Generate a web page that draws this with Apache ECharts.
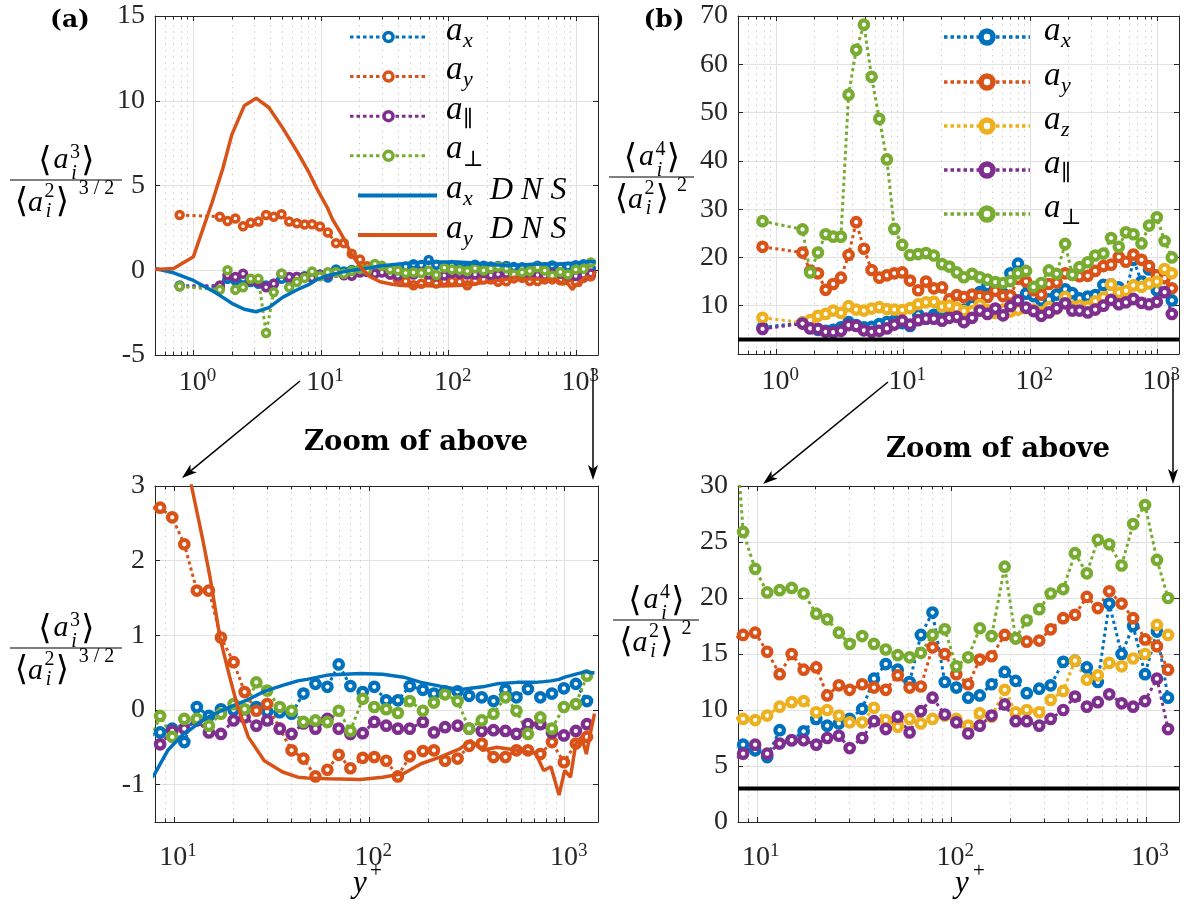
<!DOCTYPE html>
<html><head><meta charset="utf-8">
<script src="https://cdn.jsdelivr.net/npm/echarts@6/dist/echarts.min.js"></script>
<style>html,body{margin:0;padding:0;background:#fff}#c{width:1189px;height:908px}</style>
</head><body><div id="c"></div>
<script>
// ---------------- data ----------------
const yPlus = [0.78, 1.61, 1.85, 2.13, 2.45, 2.81, 3.23, 3.71, 4.26, 4.9, 5.63, 6.47, 7.43,
  8.5, 9.8, 11.3, 13.1, 15.1, 17.4, 20.2, 23.0, 26.4, 30.0, 34.8, 40.0, 46.0, 53.0, 61.0,
  69.7, 80.0, 92.5, 106, 122, 140, 161, 188, 214, 244, 283, 324, 376, 432, 497, 566, 648,
  750, 860, 990, 1140, 1300];

const skewAx = [-0.9, -1.0, -0.5, -0.6, -0.5, -0.7, -0.8, -0.9, -0.8, -0.5, -0.5, -0.4, -0.35,
  -0.3, -0.25, -0.43, 0.04, -0.08, 0.01, 0.0, 0.0, 0.04, -0.02, -0.03, -0.05, 0.22, 0.35, 0.31,
  0.61, 0.32, 0.24, 0.31, 0.13, 0.13, 0.32, 0.27, 0.22, 0.25, 0.25, 0.19, 0.17, 0.12, 0.27, 0.17,
  0.28, 0.17, 0.22, 0.29, 0.35, 0.12];
const skewAy = [3.26, 3.16, 2.9, 3.05, 2.6, 2.8, 2.87, 3.26, 3.16, 3.3, 2.87, 2.77, 2.7,
  2.71, 2.58, 2.22, 1.6, 1.6, 0.97, 0.64, 0.24, -0.01, 0.08, -0.25, -0.54, -0.65, -0.89, -0.8,
  -0.6, -0.78, -0.64, -0.63, -0.68, -0.89, -0.62, -0.55, -0.54, -0.68, -0.65, -0.48, -0.45, -0.63,
  -0.63, -0.54, -0.54, -0.59, -0.43, -0.7, -0.45, -0.36];
const skewApar = [-0.95, -0.9, -0.3, -0.4, -0.2, -0.6, -0.7, -1.0, -0.8, -0.2, -0.4, -0.4, -0.4,
  -0.46, -0.28, -0.25, -0.14, -0.3, -0.32, -0.14, -0.1, -0.21, -0.14, -0.25, -0.32, -0.18, -0.25,
  -0.12, -0.25, -0.32, -0.31, -0.16, -0.21, -0.25, -0.25, -0.16, -0.3, -0.23, -0.21, -0.25, -0.28,
  -0.27, -0.28, -0.32, -0.19, -0.19, -0.3, -0.34, -0.28, -0.19];
const skewAperp = [-0.95, -1.15, 0.0, -1.15, -1.0, -0.5, -0.5, -3.7, -1.3, -0.2, -1.0, -0.7, -0.45,
  -0.08, -0.36, -0.12, -0.12, -0.21, -0.05, 0.08, 0.01, 0.37, 0.26, 0.04, -0.01, -0.16, -0.14,
  -0.16, -0.01, -0.28, 0.15, 0.04, 0.01, -0.04, 0.12, -0.01, 0.1, 0.21, 0.12, -0.25, -0.14, -0.05,
  0.17, -0.01, -0.32, -0.1, -0.25, 0.04, 0.08, 0.46];

const kurtAx = [5.5, 6.5, 5.5, 5.0, 4.8, 5.0, 5.5, 6.6, 6.0, 5.5, 5.6, 6.2, 6.6,
  6.9, 6.4, 5.8, 8.2, 7.3, 8.1, 9.2, 8.6, 8.8, 9.2, 10.1, 12.8, 14.1, 13.6, 12.5, 16.7, 18.7, 12.5,
  12.0, 11.1, 11.3, 12.3, 13.4, 12.6, 11.5, 11.9, 12.2, 14.3, 14.4, 13.8, 12.5, 19.5, 15.0, 17.5,
  13.2, 17.0, 11.1];
const kurtAy = [22.2, 21.0, 17.2, 16.7, 13.3, 14.5, 15.8, 20.5, 27.3, 21.8, 17.4, 15.8, 16.3,
  16.7, 16.9, 15.2, 13.2, 15.0, 13.6, 13.8, 11.3, 12.2, 11.8, 12.3, 12.0, 11.8, 13.1, 12.0, 12.1,
  15.6, 15.0, 13.2, 12.3, 14.5, 14.8, 16.7, 16.4, 16.1, 16.2, 17.2, 18.2, 18.5, 20.1, 19.1, 20.6,
  19.5, 18.2, 16.3, 15.7, 13.6];
const kurtAz = [7.5, 6.5, 7.0, 7.9, 8.3, 9.0, 8.5, 9.9, 9.2, 9.0, 9.4, 9.7, 9.3,
  9.2, 9.1, 9.5, 10.3, 10.7, 10.8, 9.8, 10.0, 9.5, 8.9, 8.9, 10.2, 9.1, 8.5, 9.2, 8.8, 9.2, 9.5,
  9.2, 8.6, 9.7, 9.4, 11.8, 9.8, 10.0, 9.8, 10.9, 11.7, 14.4, 12.7, 13.1, 14.2, 13.9, 14.6, 15.0,
  17.6, 16.7];
const kurtApar = [5.2, 6.3, 5.3, 5.2, 4.6, 4.5, 4.8, 6.0, 5.8, 4.9, 4.6, 4.8, 5.3,
  6.1, 6.9, 6.1, 7.0, 7.3, 7.3, 6.9, 7.5, 7.7, 6.6, 7.5, 9.0, 8.3, 9.4, 8.0, 9.9, 11.1, 9.6, 8.9,
  7.9, 8.6, 9.5, 10.5, 9.0, 9.0, 8.6, 9.2, 10.0, 11.2, 10.3, 10.7, 11.4, 10.6, 10.3, 10.8, 12.8, 8.3];
const kurtAperp = [27.5, 25.8, 16.9, 21.0, 24.8, 24.3, 24.3, 53.7, 63.0, 68.2, 57.4, 48.7, 40.3,
  25.9, 22.6, 20.5, 20.7, 20.9, 20.4, 18.6, 18.1, 16.9, 15.9, 16.6, 15.9, 15.4, 14.9, 14.7, 15.1,
  16.7, 17.2, 13.9, 14.7, 17.3, 16.6, 22.8, 16.4, 18.0, 19.0, 20.4, 20.8, 24.0, 22.2, 25.2, 24.8,
  22.9, 26.6, 28.3, 23.4, 20.0];

const dnsYPlus = [0.5, 0.7, 1.0, 1.4, 1.7, 2.0, 2.5, 3.1, 3.9, 5.0, 6.5, 8.0, 9.3, 11.2, 12.3, 14.0,
  15.3, 17.2, 19.3, 21.0, 24, 29, 36, 43, 48, 62, 90, 117, 150, 184, 230, 290, 330, 380, 450, 570,
  710, 780, 850, 935, 1000, 1070, 1140, 1220, 1290, 1340, 1420];
const dnsSkewAy = [0.05, 0.1, 0.8, 4.0, 6.0, 8.0, 9.7, 10.15, 9.6, 8.4, 7.0, 5.8, 4.8, 3.7, 3.0, 2.3,
  1.78, 0.97, 0.44, 0.08, -0.36, -0.68, -0.83, -0.9, -0.91, -0.92, -0.93, -0.9, -0.85, -0.72, -0.63,
  -0.52, -0.41, -0.54, -0.5, -0.54, -0.58, -0.81, -0.76, -1.14, -0.81, -0.9, -0.45, -0.36, -0.59,
  -0.36, -0.05];
const dnsSkewAx = [0.1, -0.15, -0.6, -1.2, -1.6, -1.95, -2.3, -2.45, -2.2, -1.6, -1.15, -0.85, -0.54,
  -0.32, -0.25, -0.14, -0.08, -0.02, 0.04, 0.08, 0.14, 0.25, 0.33, 0.39, 0.41, 0.47, 0.49, 0.48,
  0.44, 0.37, 0.32, 0.27, 0.29, 0.31, 0.35, 0.37, 0.37, 0.38, 0.39, 0.41, 0.44, 0.46, 0.48, 0.5,
  0.52, 0.5, 0.5];

const gaussKurt = 3;
const minorTopX = [0.6, 0.7, 0.8, 0.9, 2, 3, 4, 5, 6, 7, 8, 9, 20, 30, 40, 50, 60, 70, 80, 90,
  200, 300, 400, 500, 600, 700, 800, 900];
const minorBotX = [9, 20, 30, 40, 50, 60, 70, 80, 90, 200, 300, 400, 500, 600, 700, 800, 900];

// ---------------- style / layout ----------------
const C = {ax: '#0072BD', ay: '#D95319', az: '#EDB120', par: '#7E2F8E', perp: '#77AC30'};
const FONT = "'Liberation Serif','DejaVu Serif',serif";
const BFONT = "'DejaVu Serif','Liberation Serif',serif";
const AX = '#262626', GRID = '#e2e2e2', MINOR = '#c4c4c4';

const grids = [
  {left: 155, top: 16, width: 443, height: 339},
  {left: 738, top: 16, width: 441, height: 338},
  {left: 155, top: 486, width: 443, height: 336},
  {left: 738, top: 486, width: 441, height: 336}];
const xRange = [[0.5, 1480], [0.5, 1480], [8, 1480], [8, 1480]];
const yRange = [[-5, 15, 5], [0, 70, 10], [-1.5, 3, null], [0, 30, 5]];
const xLabelMargin = [12, 12, 20, 20];

function logLabel(v) {
  const e = Math.log10(v), r = Math.round(e);
  if (Math.abs(e - r) > 1e-6) return '';
  return '{b|10}{s|' + r + '}';
}

const xAxis = [], yAxis = [], series = [];
for (let i = 0; i < 4; i++) {
  const [xmin, xmax] = xRange[i];
  const [ymin, ymax, yint] = yRange[i];
  const common = {type: 'log', logBase: 10, gridIndex: i, min: xmin, max: xmax};
  xAxis.push(Object.assign({}, common, {
    position: 'bottom',
    axisLine: {show: true, onZero: false, lineStyle: {color: AX, width: 1}},
    axisTick: {show: true, inside: true, length: 5, lineStyle: {color: AX}},
    axisLabel: {formatter: logLabel, margin: xLabelMargin[i], color: AX,
      rich: {b: {fontSize: 28, fontFamily: FONT, color: AX, lineHeight: 30, verticalAlign: 'bottom', padding: [0, 0, 0, 8]},
             s: {fontSize: 19, fontFamily: FONT, color: AX, lineHeight: 6, verticalAlign: 'top'}}},
    splitLine: {show: true, lineStyle: {color: GRID, width: 1}}
  }));
  xAxis.push(Object.assign({}, common, {
    position: 'top',
    axisLine: {show: true, onZero: false, lineStyle: {color: AX, width: 1}},
    axisTick: {show: true, inside: true, length: 5, lineStyle: {color: AX}},
    axisLabel: {show: false}, splitLine: {show: false}
  }));
  const yc = {type: 'value', gridIndex: i, min: ymin, max: ymax};
  if (yint) yc.interval = yint;
  yAxis.push(Object.assign({}, yc, {
    position: 'left',
    axisLine: {show: true, onZero: false, lineStyle: {color: AX, width: 1}},
    axisTick: {show: true, inside: true, length: 5, lineStyle: {color: AX}},
    axisLabel: {margin: 10, color: AX, fontSize: 28, fontFamily: FONT,
      formatter: v => (Number.isInteger(v) && !(i === 1 && v === 0)) ? String(v) : ''},
    splitLine: {show: true, lineStyle: {color: GRID, width: 1}}
  }));
  yAxis.push(Object.assign({}, yc, {
    position: 'right',
    axisLine: {show: true, onZero: false, lineStyle: {color: AX, width: 1}},
    axisTick: {show: true, inside: true, length: 5, lineStyle: {color: AX}},
    axisLabel: {show: false}, splitLine: {show: false}
  }));

  // minor grid (dotted) and minor ticks, placed through the axes' scales
  const minors = i < 2 ? minorTopX : minorBotX;
  const tl = (ymax - ymin) * 3.5 / grids[i].height;
  series.push({type: 'lines', coordinateSystem: 'cartesian2d', xAxisIndex: 2 * i, yAxisIndex: 2 * i,
    silent: true, polyline: false,
    lineStyle: {color: MINOR, width: 1, type: [1.2, 5], opacity: 1},
    data: minors.map(v => ({coords: [[v, ymin], [v, ymax]]}))});
  series.push({type: 'lines', coordinateSystem: 'cartesian2d', xAxisIndex: 2 * i, yAxisIndex: 2 * i,
    silent: true, polyline: false,
    lineStyle: {color: AX, width: 1, opacity: 1},
    data: minors.map(v => ({coords: [[v, ymin], [v, ymin + tl]]}))
      .concat(minors.map(v => ({coords: [[v, ymax - tl], [v, ymax]]})))});
}

function pairs(xs, ys) { return xs.map((x, k) => [x, ys[k]]); }
function markSeries(gi, ys, color, big) {
  return {type: 'line', xAxisIndex: 2 * gi, yAxisIndex: 2 * gi, data: pairs(yPlus, ys),
    silent: true, showAllSymbol: true, symbol: 'circle',
    symbolSize: big ? 8.5 : 7,
    itemStyle: {color: '#fff', borderColor: color, borderWidth: big ? 4.2 : 3.5},
    lineStyle: {color: color, width: 3, type: [3.2, 3.2]}, clip: true, z: 3};
}
function dnsSeries(gi, ys, color) {
  return {type: 'line', xAxisIndex: 2 * gi, yAxisIndex: 2 * gi, data: pairs(dnsYPlus, ys),
    silent: true, symbol: 'none', lineStyle: {color: color, width: 3.5}, clip: true, z: 4};
}
function gaussSeries(gi) {
  const r = xRange[gi];
  return {type: 'line', xAxisIndex: 2 * gi, yAxisIndex: 2 * gi,
    data: [[r[0], gaussKurt], [r[1], gaussKurt]], silent: true, symbol: 'none',
    lineStyle: {color: '#000', width: 4}, z: 5};
}
[0, 2].forEach(gi => {
  const big = gi === 2;
  series.push(markSeries(gi, skewAx, C.ax, big), markSeries(gi, skewAy, C.ay, big),
    markSeries(gi, skewApar, C.par, big), markSeries(gi, skewAperp, C.perp, big),
    dnsSeries(gi, dnsSkewAx, C.ax), dnsSeries(gi, dnsSkewAy, C.ay));
});
[1, 3].forEach(gi => {
  series.push(markSeries(gi, kurtAx, C.ax, true), markSeries(gi, kurtAy, C.ay, true),
    markSeries(gi, kurtAz, C.az, true), markSeries(gi, kurtApar, C.par, true),
    markSeries(gi, kurtAperp, C.perp, true), gaussSeries(gi));
});

// ---------------- graphic text / annotations ----------------
function txt(t, x, y, size, opt) {
  opt = opt || {};
  return {type: 'text', x: x, y: y, silent: true, z: 100,
    style: {text: t, fontSize: size, fontFamily: opt.font || FONT,
      fontStyle: opt.italic ? 'italic' : 'normal', fontWeight: opt.bold ? 'bold' : 'normal',
      fill: '#000', align: opt.align || 'center', verticalAlign: 'middle',
      textAlign: opt.align || 'center', textVerticalAlign: 'middle'}};
}
const BR = "'DejaVu Sans','Noto Sans',sans-serif";
function frac(x1, x2, by, numSup, outer, outerW) {
  const cx = (x1 + x2) / 2, out = [];
  const M = 30, S = 20, B = 34;
  out.push({type: 'line', silent: true, z: 100, shape: {x1: x1, y1: by, x2: x2, y2: by},
    style: {stroke: '#000', lineWidth: 1.2}});
  out.push(txt('\u27E8', cx - 21, by - 18, B, {font: BR}));
  out.push(txt('a', cx - 5, by - 20, M, {italic: true}));
  out.push(txt(numSup, cx + 9, by - 27, S));
  out.push(txt('i', cx + 8, by - 6.5, S, {italic: true}));
  out.push(txt('\u27E9', cx + 22, by - 18, B, {font: BR}));
  const d = cx - (51 + outerW) / 2;
  out.push(txt('\u27E8', d + 1, by + 23, B, {font: BR}));
  out.push(txt('a', d + 15, by + 23.5, M, {italic: true}));
  out.push(txt('2', d + 29, by + 11.5, S));
  out.push(txt('i', d + 28, by + 32, S, {italic: true}));
  out.push(txt('\u27E9', d + 42, by + 23, B, {font: BR}));
  out.push(txt(outer, d + 56 + outerW / 2, by + 9, S));
  return out;
}
function legendBlock(items, ix1, ix2, tx, rows, r, lw, dotW) {
  const out = [];
  items.forEach((it, k) => {
    const y = rows[k];
    if (it.dns) {
      out.push({type: 'line', silent: true, z: 100, shape: {x1: ix1 + 8, y1: y, x2: ix2 + 10, y2: y},
        style: {stroke: it.c, lineWidth: 4}});
    } else {
      out.push({type: 'line', silent: true, z: 100, shape: {x1: ix1, y1: y, x2: ix2, y2: y},
        style: {stroke: it.c, lineWidth: dotW, lineDash: [3.5, 3]}});
      out.push({type: 'circle', silent: true, z: 101, shape: {cx: (ix1 + ix2) / 2, cy: y, r: r},
        style: {fill: '#fff', stroke: it.c, lineWidth: lw}});
    }
    out.push(txt('a', tx, y - 6, 33, {italic: true, align: 'left'}));
    out.push(txt(it.s, tx + 17, y + 4, 22, {italic: it.it, align: 'left'}));
    if (it.dns) out.push(txt('D N S', tx + 44, y - 5, 32, {italic: true, align: 'left'}));
  });
  return out;
}
function arrow(x1, y1, x2, y2) {
  const L = 15, W = 5;
  const dx = x2 - x1, dy = y2 - y1, len = Math.hypot(dx, dy);
  const ux = dx / len, uy = dy / len, px = -uy, py = ux;
  const bx = x2 - ux * L, by = y2 - uy * L;
  const nx = x2 - ux * L * 0.75, ny = y2 - uy * L * 0.75;
  return [
    {type: 'line', silent: true, z: 100, shape: {x1: x1, y1: y1, x2: nx, y2: ny},
      style: {stroke: '#000', lineWidth: 1.5}},
    {type: 'polygon', silent: true, z: 100,
      shape: {points: [[x2, y2], [bx + px * W, by + py * W], [nx, ny], [bx - px * W, by - py * W]]},
      style: {fill: '#000'}}];
}

const elements = [].concat(
  [txt('(a)', 70, 20, 25, {bold: true, font: BFONT}), txt('(b)', 664, 20, 25, {bold: true, font: BFONT})],
  frac(10, 122, 180, '3', '3 / 2', 40),
  frac(609, 694, 177, '4', '2', 11),
  frac(10, 122, 648, '3', '3 / 2', 40),
  frac(613, 699, 620, '4', '2', 11),
  legendBlock([
    {c: C.ax, s: 'x', it: true}, {c: C.ay, s: 'y', it: true}, {c: C.par, s: '\u2225'},
    {c: C.perp, s: '\u22A5'}, {c: C.ax, s: 'x', it: true, dns: true}, {c: C.ay, s: 'y', it: true, dns: true}],
    350, 427, 446, [37, 76.6, 116.2, 155.8, 195.4, 235], 4.5, 3.5, 3),
  legendBlock([
    {c: C.ax, s: 'x', it: true}, {c: C.ay, s: 'y', it: true}, {c: C.az, s: 'z', it: true},
    {c: C.par, s: '\u2225'}, {c: C.perp, s: '\u22A5'}],
    944, 1030, 1044, [37, 82, 126, 170, 214], 6, 5.5, 3.5),
  [txt('Zoom of above', 416, 443, 27.5, {bold: true, font: BFONT}),
   txt('Zoom of above', 998, 450, 27.5, {bold: true, font: BFONT})],
  arrow(300, 381, 182, 478), arrow(593, 368, 593, 480),
  arrow(888, 382, 763, 484), arrow(1173, 372, 1173, 484),
  [txt('y', 360, 884, 31, {italic: true}), txt('+', 376, 871, 21),
   txt('y', 962, 884, 31, {italic: true}), txt('+', 979, 871, 21)]
);

const chart = echarts.init(document.getElementById('c'), null, {renderer: 'canvas'});
chart.setOption({
  animation: false,
  backgroundColor: '#fff',
  textStyle: {fontFamily: FONT},
  grid: grids.map(g => Object.assign({show: false}, g)),
  xAxis: xAxis, yAxis: yAxis, series: series,
  graphic: {elements: elements}
});
</script></body></html>
